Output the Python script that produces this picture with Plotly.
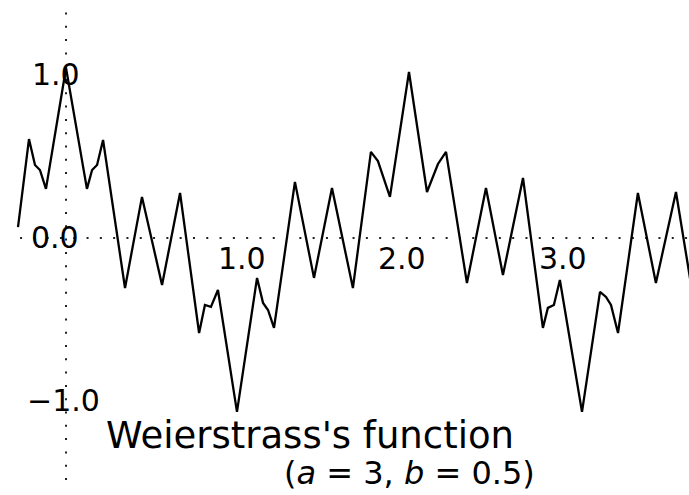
import plotly.graph_objects as go

# Vertices of the Weierstrass curve polyline (a = 3, b = 0.5)
x_vals = [-0.280, -0.216, -0.181, -0.152, -0.117, 0.000, 0.122, 0.152, 0.181, 0.216,
          0.344, 0.443, 0.560, 0.665, 0.776, 0.810, 0.845, 0.886, 0.997, 1.114,
          1.149, 1.178, 1.213, 1.335, 1.446, 1.551, 1.673, 1.778, 1.819, 1.889,
          2.000, 2.105, 2.169, 2.216, 2.338, 2.449, 2.548, 2.665, 2.781, 2.810,
          2.845, 2.880, 3.009, 3.114, 3.149, 3.178, 3.219, 3.335, 3.440, 3.557,
          3.650]
y_vals = [0.067, 0.607, 0.448, 0.417, 0.301, 1.043, 0.301, 0.417, 0.448, 0.601,
          -0.307, 0.252, -0.288, 0.276, -0.583, -0.411, -0.423, -0.319, -1.067, -0.245,
          -0.399, -0.442, -0.552, 0.344, -0.245, 0.307, -0.307, 0.528, 0.472, 0.252,
          1.018, 0.282, 0.454, 0.528, -0.276, 0.307, -0.227, 0.368, -0.552, -0.429,
          -0.411, -0.258, -1.067, -0.331, -0.362, -0.411, -0.583, 0.276, -0.276, 0.282,
          -0.319]

# Axis tick labels: value, text, horizontal nudge in px
x_ticks = [1.0, 2.0, 3.0]
x_tick_text = ["1.0", "2.0", "3.0"]
x_tick_nudge = [4, -7, -17]
y_ticks = [1.0, 0.0, -1.0]
y_tick_text = ["1.0", "0.0", "\u22121.0"]
y_tick_nudge = [-10, -11, -3]

title_text = "Weierstrass's function"
subtitle_text = "(<i>a</i> = 3, <i>b</i> = 0.5)"

X_RANGE = [-0.385, 3.633]
Y_RANGE = [-1.577, 1.460]
FONT = "DejaVu Sans"

fig = go.Figure()

# dotted coordinate axes through the origin
dot_style = dict(color="#222222", width=2, dash="2px,11.3px")
fig.add_shape(type="line", x0=-0.268, x1=X_RANGE[1], y0=0, y1=0, line=dot_style, layer="below")
fig.add_shape(type="line", x0=0, x1=0, y0=-1.485, y1=1.387, line=dot_style, layer="below")

fig.add_trace(go.Scatter(
    x=x_vals, y=y_vals, mode="lines",
    line=dict(color="black", width=2.3),
    hoverinfo="skip", showlegend=False,
))

annotations = []
for v, t, s in zip(x_ticks, x_tick_text, x_tick_nudge):
    annotations.append(dict(x=v, y=0, xref="x", yref="y", text=t, showarrow=False,
                            xanchor="center", yanchor="top", xshift=s, yshift=-1,
                            font=dict(family=FONT, size=30, color="black")))
for v, t, s in zip(y_ticks, y_tick_text, y_tick_nudge):
    annotations.append(dict(x=0, y=v, xref="x", yref="y", text=t, showarrow=False,
                            xanchor="center", yanchor="middle", xshift=s,
                            font=dict(family=FONT, size=30, color="black")))

annotations.append(dict(x=0.45, y=0.121, xref="paper", yref="paper", text=title_text,
                        showarrow=False, xanchor="center", yanchor="middle",
                        font=dict(family=FONT, size=37, color="black")))
annotations.append(dict(x=0.595, y=0.0, xref="paper", yref="paper", text=subtitle_text,
                        showarrow=False, xanchor="center", yanchor="bottom", yshift=1,
                        font=dict(family=FONT, size=32, color="black")))

fig.update_layout(
    width=689, height=495,
    margin=dict(l=0, r=0, t=0, b=0),
    paper_bgcolor="white", plot_bgcolor="white",
    xaxis=dict(range=X_RANGE, visible=False, fixedrange=True),
    yaxis=dict(range=Y_RANGE, visible=False, fixedrange=True),
    annotations=annotations,
)

fig.write_html("out.html")
